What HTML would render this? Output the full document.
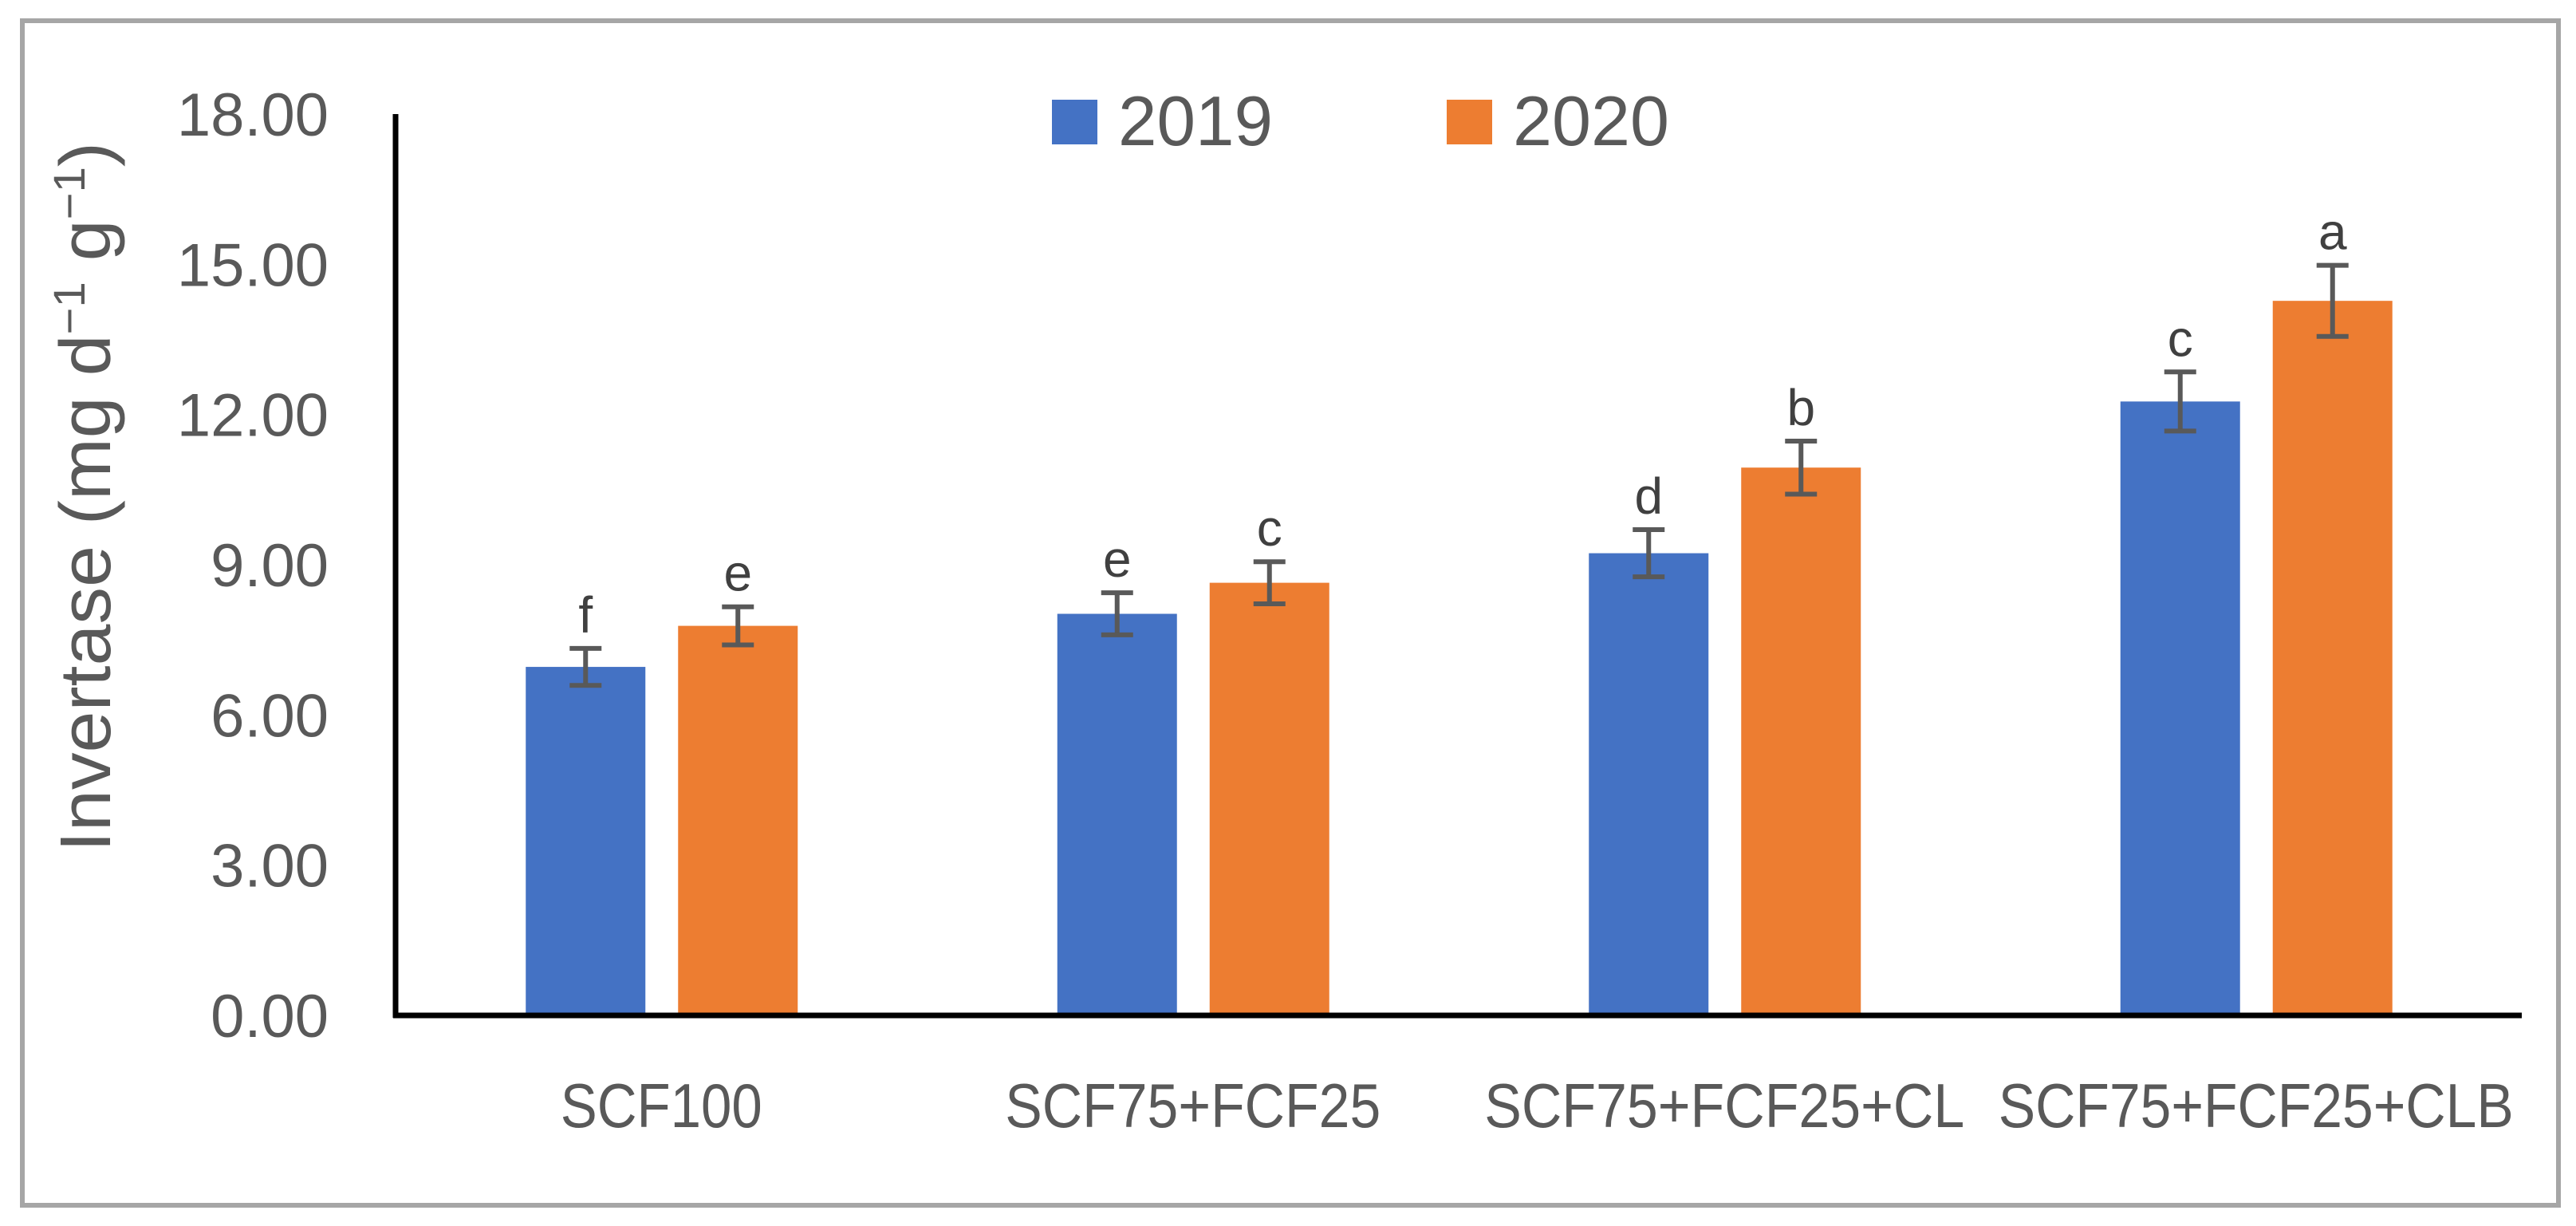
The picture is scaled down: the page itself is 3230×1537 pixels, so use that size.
<!DOCTYPE html>
<html><head><meta charset="utf-8"><style>
html,body{margin:0;padding:0;background:#fff;}
svg{display:block;font-family:"Liberation Sans",sans-serif;}
</style></head><body>
<svg id="chart" width="3230" height="1537" viewBox="0 0 3230 1537">
<rect x="28" y="26" width="3180" height="1485" fill="#fff" stroke="#a6a6a6" stroke-width="6"/>
<g id="yticks"></g>
<text x="0" y="0" transform="translate(138,623) rotate(-90)" text-anchor="middle" font-size="90" fill="#595959" textLength="890" lengthAdjust="spacingAndGlyphs">Invertase (mg d<tspan font-size="56" dy="-32">−1</tspan><tspan dy="32"> g</tspan><tspan font-size="56" dy="-32">−1</tspan><tspan dy="32">)</tspan></text>
<g id="bars"></g>
<g id="errs"></g>
<g id="letters"></g>
<g id="xlabels"></g>
<line x1="496" y1="143" x2="496" y2="1276" stroke="#000" stroke-width="7"/>
<line x1="493" y1="1273" x2="3162" y2="1273" stroke="#000" stroke-width="7"/>
<g>
<rect x="1319" y="125" width="57" height="56" fill="#4472C4"/>
<text x="1402" y="182" font-size="88" fill="#595959" textLength="194" lengthAdjust="spacingAndGlyphs">2019</text>
<rect x="1814" y="125" width="57" height="56" fill="#ED7D31"/>
<text x="1897" y="182" font-size="88" fill="#595959" textLength="196" lengthAdjust="spacingAndGlyphs">2020</text>
</g>
</svg>
<script>
const categories = ["SCF100","SCF75+FCF25","SCF75+FCF25+CL","SCF75+FCF25+CLB"];
const values2019 = [6.96, 8.02, 9.23, 12.26];
const values2020 = [7.78, 8.64, 10.94, 14.27];
const err2019 = [0.37, 0.42, 0.47, 0.59];
const err2020 = [0.38, 0.42, 0.53, 0.71];
const letters2019 = ["f","e","d","c"];
const letters2020 = ["e","c","b","a"];
const yTicks = [0, 3, 6, 9, 12, 15, 18];
const yTickLabels = ["0.00","3.00","6.00","9.00","12.00","15.00","18.00"];
const labelWidths = [253, 471, 602, 646];

const NS = "http://www.w3.org/2000/svg";
const plotL = 496, plotR = 3162, y0 = 1273, yTop = 143, yMax = 18;
const catW = (plotR - plotL) / categories.length;
function yS(v){ return y0 - v / yMax * (y0 - yTop); }
function xC(i){ return plotL + catW * (i + 0.5); }
function mk(tag, attrs, parent){
  const e = document.createElementNS(NS, tag);
  for (const k in attrs) e.setAttribute(k, attrs[k]);
  parent.appendChild(e);
  return e;
}
const gT = document.getElementById("yticks");
yTicks.forEach((t, i) => {
  const el = mk("text", {x: 412, y: yS(t) + 27, "text-anchor": "end", "font-size": 76, fill: "#595959"}, gT);
  
  
  el.textContent = yTickLabels[i];
});
const gB = document.getElementById("bars"), gE = document.getElementById("errs"), gL = document.getElementById("letters"), gX = document.getElementById("xlabels");
const barW = 150;
const series = [
  {vals: values2019, errs: err2019, lets: letters2019, color: "#4472C4", off: -95, name: "2019"},
  {vals: values2020, errs: err2020, lets: letters2020, color: "#ED7D31", off: 96, name: "2020"}
];
categories.forEach((c, i) => {
  series.forEach(s => {
    const cx = xC(i) + s.off;
    const top = yS(s.vals[i]);
    const r = mk("rect", {x: cx - barW/2, y: top, width: barW, height: y0 - 3 - top, fill: s.color}, gB);
    
    
    const eTop = yS(s.vals[i] + s.errs[i]), eBot = yS(s.vals[i] - s.errs[i]);
    const g = mk("g", {stroke: "#595959", "stroke-width": 6}, gE);
    
    
    mk("line", {x1: cx, y1: eTop, x2: cx, y2: eBot}, g);
    mk("line", {x1: cx - 20, y1: eTop, x2: cx + 20, y2: eTop}, g);
    mk("line", {x1: cx - 20, y1: eBot, x2: cx + 20, y2: eBot}, g);
    const lt = mk("text", {x: cx, y: eTop - 20, "text-anchor": "middle", "font-size": 64, fill: "#404040"}, gL);
    
    
    lt.textContent = s.lets[i];
  });
  const xl = mk("text", {x: xC(i), y: 1413, "text-anchor": "middle", "font-size": 78, fill: "#595959", textLength: labelWidths[i], lengthAdjust: "spacingAndGlyphs"}, gX);
  
  
  xl.textContent = c;
});
</script>
</body></html>
